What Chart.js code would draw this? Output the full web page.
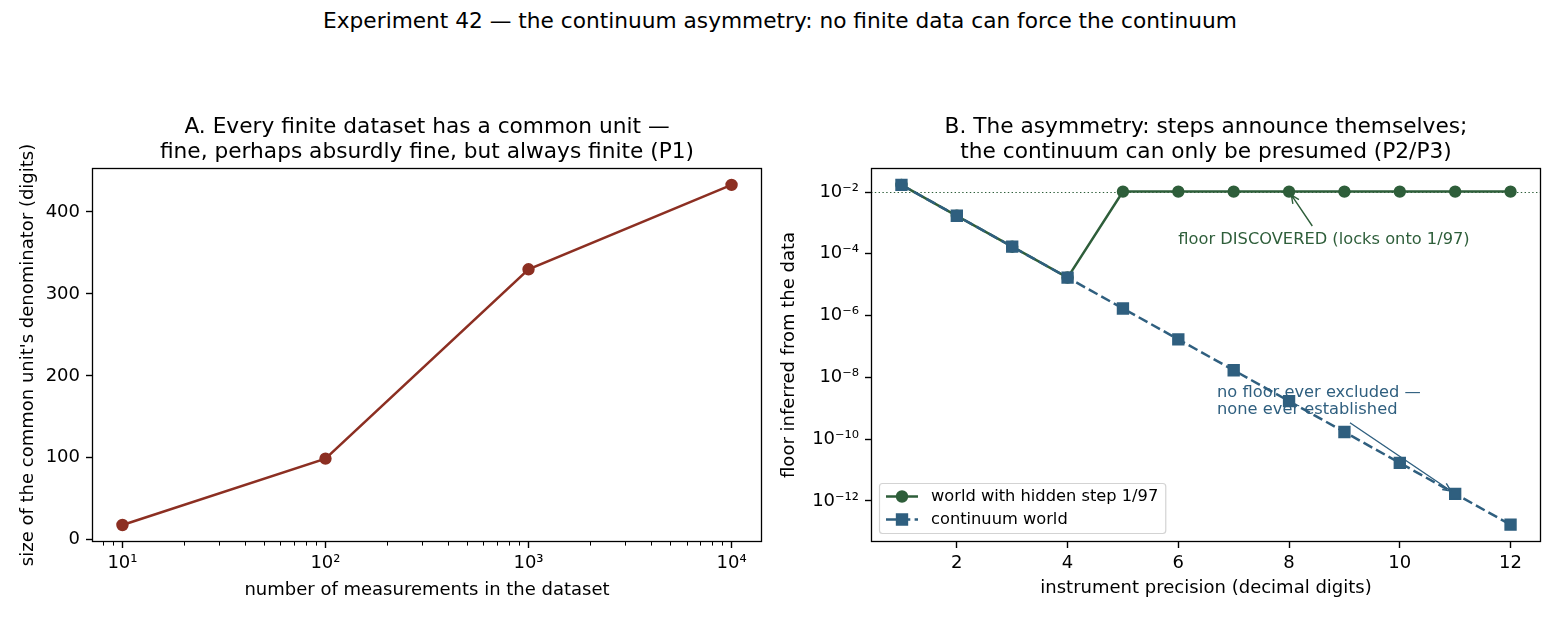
<!DOCTYPE html>
<html>
<head>
<meta charset="utf-8">
<title>Experiment 42</title>
<script src="https://cdn.jsdelivr.net/npm/chart.js@4.4.1/dist/chart.umd.min.js"></script>
<style>
  html, body { margin: 0; padding: 0; background: #fff; }
  #wrap { position: relative; width: 1560px; height: 624px; overflow: hidden; font-family: "DejaVu Sans", sans-serif; }
  #sup { position: absolute; left: 0; top: 7px; width: 1560px; text-align: center; font-size: 21.7px; line-height: 28px; color: #000; }
  .panel { position: absolute; top: 100px; width: 780px; height: 524px; }
</style>
</head>
<body>
<div id="wrap">
  <div id="sup">Experiment 42 — the continuum asymmetry: no finite data can force the continuum</div>
  <div class="panel" style="left:0"><canvas id="chartA"></canvas></div>
  <div class="panel" style="left:780px"><canvas id="chartB"></canvas></div>
</div>
<script>
// ---- data ----
// Panel A
const datasetSizes = [10, 100, 1000, 10000];
const denominatorDigits = [18, 99, 330, 433];
const aTicksX = [10, 100, 1000, 10000];
const aTickLabelsX = ['10¹', '10²', '10³', '10⁴'];
const aTicksY = [0, 100, 200, 300, 400];

// Panel B
const precisionDigits = [1, 2, 3, 4, 5, 6, 7, 8, 9, 10, 11, 12];
const hiddenStepFloor = [1.7e-2, 1.7e-3, 1.7e-4, 1.7e-5, 0.0103, 0.0103, 0.0103, 0.0103, 0.0103, 0.0103, 0.0103, 0.0103];
const continuumFloor = [1.7e-2, 1.7e-3, 1.7e-4, 1.7e-5, 1.7e-6, 1.7e-7, 1.7e-8, 1.7e-9, 1.7e-10, 1.7e-11, 1.7e-12, 1.7e-13];
const HIDDEN_STEP = 0.0103; // 1/97
const bTicksX = [2, 4, 6, 8, 10, 12];
const bTicksY = [1e-2, 1e-4, 1e-6, 1e-8, 1e-10, 1e-12];
const bTickLabelsY = ['10⁻²', '10⁻⁴', '10⁻⁶', '10⁻⁸', '10⁻¹⁰', '10⁻¹²'];

const RED = '#8c2f22';
const GREEN = '#2e5e3a';
const BLUE = '#2f5f7f';
const FONT = '"DejaVu Sans", sans-serif';

Chart.defaults.font.family = FONT;
Chart.defaults.color = '#000';
Chart.defaults.animation = false;

const tickFont = { family: FONT, size: 18 };
const axisTitleFont = { family: FONT, size: 18, lineHeight: 1 };
const titleFont = { family: FONT, size: 21.7, weight: 'normal', lineHeight: 1.15 };
const noteFont = '16.25px ' + FONT;

const tickGrid = { drawOnChartArea: false, drawTicks: true, tickLength: 6, tickColor: '#000', tickWidth: 1.4 };

function pairs(xs, ys) {
    return xs.map((x, i) => ({ x: x, y: ys[i] }));
}

// box around the plot area, like matplotlib spines
const framePlugin = {
    id: 'frame',
    afterDraw(chart) {
        const { ctx, chartArea: a } = chart;
        ctx.save();
        ctx.strokeStyle = '#000';
        ctx.lineWidth = 1.3;
        ctx.strokeRect(Math.round(a.left) + 0.5, Math.round(a.top) + 0.5,
            Math.round(a.right - a.left) - 1, Math.round(a.bottom - a.top) - 1);
        ctx.restore();
    }
};

// small unlabeled ticks between the decades on the log x axis
const minorTicksPlugin = {
    id: 'minorTicks',
    afterDraw(chart) {
        const s = chart.scales.x;
        const { ctx, chartArea: a } = chart;
        ctx.save();
        ctx.strokeStyle = '#000';
        ctx.lineWidth = 1;
        ctx.beginPath();
        for (let e = 0; e <= 4; e++) {
            for (let m = 2; m <= 9; m++) {
                const v = m * Math.pow(10, e);
                if (v <= s.min || v >= s.max) continue;
                const px = Math.round(s.getPixelForValue(v)) + 0.5;
                ctx.moveTo(px, a.bottom);
                ctx.lineTo(px, a.bottom + 3.6);
            }
        }
        ctx.stroke();
        ctx.restore();
    }
};

function drawArrow(ctx, x0, y0, x1, y1, shrink, color) {
    const ang = Math.atan2(y1 - y0, x1 - x0);
    const ex = x1 - shrink * Math.cos(ang);
    const ey = y1 - shrink * Math.sin(ang);
    ctx.save();
    ctx.strokeStyle = color;
    ctx.lineWidth = 1.4;
    ctx.beginPath();
    ctx.moveTo(x0, y0);
    ctx.lineTo(ex, ey);
    const hl = 9, hw = 0.42;
    ctx.moveTo(ex - hl * Math.cos(ang - hw), ey - hl * Math.sin(ang - hw));
    ctx.lineTo(ex, ey);
    ctx.lineTo(ex - hl * Math.cos(ang + hw), ey - hl * Math.sin(ang + hw));
    ctx.stroke();
    ctx.restore();
}

// dotted 1/97 line, the two notes and their arrows
const notesPlugin = {
    id: 'notes',
    beforeDatasetsDraw(chart) {
        const { ctx, chartArea: a, scales: { y } } = chart;
        const py = Math.round(y.getPixelForValue(HIDDEN_STEP)) + 0.5;
        ctx.save();
        ctx.strokeStyle = GREEN;
        ctx.lineWidth = 1.2;
        ctx.setLineDash([1.4, 2.4]);
        ctx.beginPath();
        ctx.moveTo(a.left, py);
        ctx.lineTo(a.right, py);
        ctx.stroke();
        ctx.restore();
    },
    afterDatasetsDraw(chart) {
        const { ctx, scales: { x, y } } = chart;
        ctx.save();
        ctx.font = noteFont;
        ctx.textAlign = 'left';
        ctx.textBaseline = 'middle';

        ctx.fillStyle = GREEN;
        ctx.fillText('floor DISCOVERED (locks onto 1/97)', x.getPixelForValue(6.0), y.getPixelForValue(Math.pow(10, -3.56)));
        drawArrow(ctx, x.getPixelForValue(8.42), y.getPixelForValue(Math.pow(10, -3.1)),
            x.getPixelForValue(8), y.getPixelForValue(HIDDEN_STEP), 4, GREEN);

        ctx.fillStyle = BLUE;
        const tx = x.getPixelForValue(6.7), ty = y.getPixelForValue(Math.pow(10, -8.77));
        ctx.fillText('no floor ever excluded —', tx, ty - 8.5);
        ctx.fillText('none ever established', tx, ty + 8.5);
        drawArrow(ctx, x.getPixelForValue(9.1), y.getPixelForValue(Math.pow(10, -9.47)),
            x.getPixelForValue(11), y.getPixelForValue(1.7e-12), 5, BLUE);
        ctx.restore();
    }
};

function drawMarker(ctx, style, cx, cy, r, lw, color) {
    ctx.fillStyle = color;
    ctx.strokeStyle = color;
    ctx.lineWidth = lw;
    ctx.beginPath();
    if (style === 'rect') {
        const h = r * Math.SQRT1_2;
        ctx.rect(cx - h, cy - h, 2 * h, 2 * h);
    } else {
        ctx.arc(cx, cy, r, 0, Math.PI * 2);
    }
    ctx.fill();
    ctx.stroke();
}

// matplotlib-like legend in the lower left of the plot area
const legendPlugin = {
    id: 'boxLegend',
    afterDraw(chart) {
        const { ctx, chartArea: a } = chart;
        const items = chart.data.datasets;
        ctx.save();
        ctx.font = noteFont;
        const tw = Math.max(...items.map(d => ctx.measureText(d.label).width));
        const w = 7 + 32 + 13 + tw + 7, h = 50;
        const x0 = a.left + 8, y0 = a.bottom - 9 - h;
        ctx.beginPath();
        ctx.roundRect(x0 + 0.5, y0 + 0.5, w, h, 3);
        ctx.fillStyle = 'rgba(255,255,255,0.8)';
        ctx.fill();
        ctx.strokeStyle = '#d3d3d3';
        ctx.lineWidth = 1.2;
        ctx.stroke();
        items.forEach((d, i) => {
            const ry = y0 + 13.5 + i * 23;
            ctx.save();
            ctx.strokeStyle = d.borderColor;
            ctx.lineWidth = d.borderWidth;
            ctx.setLineDash(d.borderDash || []);
            ctx.beginPath();
            ctx.moveTo(x0 + 7, ry);
            ctx.lineTo(x0 + 39, ry);
            ctx.stroke();
            ctx.setLineDash([]);
            drawMarker(ctx, d.pointStyle, x0 + 23, ry, d.pointRadius, d.pointBorderWidth, d.backgroundColor);
            ctx.restore();
            ctx.fillStyle = '#000';
            ctx.textAlign = 'left';
            ctx.textBaseline = 'middle';
            ctx.fillText(d.label, x0 + 52, ry);
        });
        ctx.restore();
    }
};

// Panel A
new Chart(document.getElementById('chartA'), {
    type: 'line',
    data: {
        datasets: [{
            label: 'common unit size',
            data: pairs(datasetSizes, denominatorDigits),
            borderColor: RED,
            backgroundColor: RED,
            borderWidth: 2.5,
            pointStyle: 'circle',
            pointRadius: 5.4,
            pointBorderWidth: 1.6,
            tension: 0
        }]
    },
    options: {
        responsive: true,
        maintainAspectRatio: false,
        devicePixelRatio: 1,
        layout: { padding: { left: 0, right: 18, top: 0, bottom: 0 } },
        plugins: {
            legend: { display: false },
            tooltip: { enabled: false },
            title: {
                display: true,
                fullSize: false,
                text: ['A. Every finite dataset has a common unit —', 'fine, perhaps absurdly fine, but always finite (P1)'],
                font: titleFont,
                color: '#000',
                padding: { top: 14.5, bottom: 3.5 }
            }
        },
        scales: {
            x: {
                type: 'logarithmic',
                position: 'bottom',
                min: 7.08,
                max: 14125,
                afterBuildTicks: s => { s.ticks = aTicksX.map(v => ({ value: v })); },
                afterFit: s => { s.height = 82; },
                ticks: {
                    autoSkip: false, maxRotation: 0, font: tickFont, padding: 5,
                    callback: (v, i) => aTickLabelsX[i]
                },
                grid: tickGrid,
                border: { display: false },
                title: { display: true, text: 'number of measurements in the dataset', font: axisTitleFont, color: '#000', padding: { top: 0, bottom: 25 } }
            },
            y: {
                type: 'linear',
                min: -2.75,
                max: 453.75,
                afterBuildTicks: s => { s.ticks = aTicksY.map(v => ({ value: v })); },
                afterFit: s => { s.width = 92; },
                ticks: { autoSkip: false, font: tickFont, padding: 6, callback: v => String(v) },
                grid: tickGrid,
                border: { display: false },
                title: { display: true, text: "size of the common unit's denominator (digits)", font: axisTitleFont, color: '#000', padding: { top: 19, bottom: 0 } }
            }
        }
    },
    plugins: [framePlugin, minorTicksPlugin]
});

// Panel B
new Chart(document.getElementById('chartB'), {
    type: 'line',
    data: {
        datasets: [{
            label: 'world with hidden step 1/97',
            data: pairs(precisionDigits, hiddenStepFloor),
            borderColor: GREEN,
            backgroundColor: GREEN,
            borderWidth: 2.5,
            pointStyle: 'circle',
            pointRadius: 5.4,
            pointBorderWidth: 1.6,
            tension: 0,
            order: 1
        }, {
            label: 'continuum world',
            data: pairs(precisionDigits, continuumFloor),
            borderColor: BLUE,
            backgroundColor: BLUE,
            borderWidth: 2.5,
            borderDash: [10, 4.3],
            pointStyle: 'rect',
            pointRadius: 7.6,
            pointBorderWidth: 1.6,
            tension: 0,
            order: 0
        }]
    },
    options: {
        responsive: true,
        maintainAspectRatio: false,
        devicePixelRatio: 1,
        layout: { padding: { left: 0, right: 19, top: 0, bottom: 0 } },
        plugins: {
            legend: { display: false },
            tooltip: { enabled: false },
            title: {
                display: true,
                fullSize: false,
                text: ['B. The asymmetry: steps announce themselves;', 'the continuum can only be presumed (P2/P3)'],
                font: titleFont,
                color: '#000',
                padding: { top: 14.5, bottom: 3.5 }
            }
        },
        scales: {
            x: {
                type: 'linear',
                position: 'bottom',
                min: 0.45,
                max: 12.55,
                afterBuildTicks: s => { s.ticks = bTicksX.map(v => ({ value: v })); },
                afterFit: s => { s.height = 82; },
                ticks: { autoSkip: false, maxRotation: 0, font: tickFont, padding: 5, callback: v => String(v) },
                grid: tickGrid,
                border: { display: false },
                title: { display: true, text: 'instrument precision (decimal digits)', font: axisTitleFont, color: '#000', padding: { top: 0, bottom: 27 } }
            },
            y: {
                type: 'logarithmic',
                min: 4.68e-14,
                max: 0.0603,
                afterBuildTicks: s => { s.ticks = bTicksY.map(v => ({ value: v })); },
                afterFit: s => { s.width = 91; },
                ticks: { autoSkip: false, font: tickFont, padding: 6, callback: (v, i) => bTickLabelsY[i] },
                grid: tickGrid,
                border: { display: false },
                title: { display: true, text: 'floor inferred from the data', font: axisTitleFont, color: '#000', padding: { top: 0, bottom: 0 } }
            }
        }
    },
    plugins: [framePlugin, notesPlugin, legendPlugin]
});
</script>
</body>
</html>
